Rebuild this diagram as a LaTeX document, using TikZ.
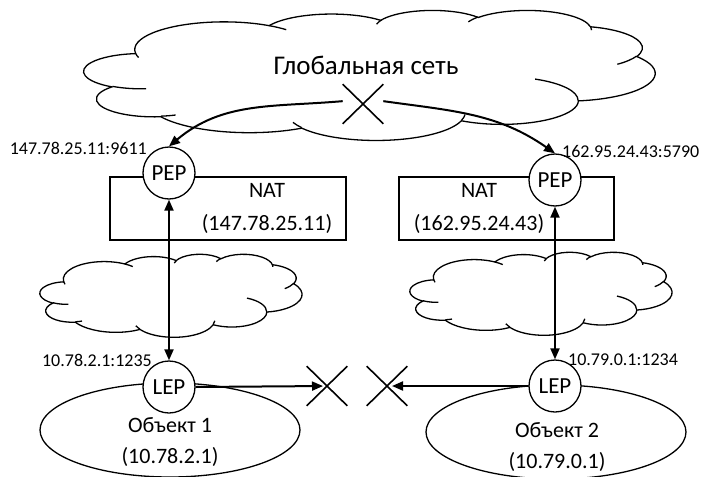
\documentclass[tikz,border=0pt]{standalone}
\usepackage{fontspec}
\setmainfont{Carlito}
\usetikzlibrary{arrows.meta,shapes.geometric,shapes.misc}

\newcommand\carc[4]{arc[start angle={atan2(#1*sin(#3),#2*cos(#3))}, delta angle={mod(atan2(#1*sin(#3+#4),#2*cos(#3+#4))-atan2(#1*sin(#3),#2*cos(#3))+720,360)}, x radius=#1pt, y radius=#2pt]}

\newcommand\drawcloud[4]{%
\begin{scope}[shift={(#1,-#2)},xscale=#3/100,yscale=-#4/100]
\draw[shapeline,fill=white] (9.028,33.264) \carc{15.632}{21.273}{-190.4875}{123.7805} \carc{12.345}{16.822}{-144.1024}{89.9452} \carc{10.104}{13.762}{-145.8079}{99.7230} \carc{11.243}{15.266}{-130.9861}{117.2417} \carc{12.345}{16.836}{-78.7089}{109.0269} \carc{15.683}{21.343}{-46.2673}{130.2690} \carc{13.391}{18.211}{0.6250}{114.0333} \carc{15.630}{21.331}{22.4516}{115.1726} \carc{17.870}{24.405}{66.2426}{75.7110} \carc{10.093}{13.699}{-274.9421}{146.7356} \carc{10.058}{13.762}{-246.8285}{152.5189} -- cycle;
\draw[shapeline] (10.863,60.595) \carc{10.058}{13.762}{86.742}{26.4295}
 (16.037,80.785) \carc{10.093}{13.699}{73.6105}{11.4475}
 (38.144,90.486) \carc{15.630}{21.331}{137.6242}{14.0811}
 (66.729,80.442) \carc{15.630}{21.331}{6.4533}{15.9984}
 (79.002,53.134) \carc{13.391}{18.211}{-70.2924}{70.9174}
 (96.755,35.542) \carc{12.345}{16.836}{30.318}{27.7515}
 (88.713,12.560) \carc{11.243}{15.266}{-13.7443}{14.8589}
 (67.310,9.148) \carc{11.243}{15.266}{-149.1815}{18.1954}
 (51.252,10.926) \carc{10.104}{13.762}{-163.4943}{17.6864}
 (32.407,12.019) \carc{15.632}{21.273}{-66.707}{12.3194}
 (9.553,36.549) \carc{15.632}{21.273}{157.6544}{11.8582};
\end{scope}}

\begin{document}
\begin{tikzpicture}[x=1pt,y=1pt,
  shapeline/.style={line width=1.3pt},
  conn/.style={line width=2pt, -{Triangle[length=11pt,width=9pt]}},
  conntwo/.style={line width=2pt, {Triangle[length=11pt,width=9pt]}-{Triangle[length=11pt,width=9pt]}},
  endpt/.style={circle, draw, shapeline, fill=white, minimum size=52pt, inner sep=0pt, font=\fontsize{23}{27}\selectfont},
  natbox/.style={draw, shapeline, fill=white, rectangle, inner sep=0pt},
  xmark/.style={cross out, draw, line width=1.6pt, minimum width=39pt, minimum height=38pt, inner sep=0pt},
  addr/.style={font=\fontsize{18}{21}\selectfont, inner sep=0pt},
  maintext/.style={font=\fontsize{22}{33}\selectfont, align=center, inner sep=0pt},
  objtext/.style={font=\fontsize{22}{31}\selectfont, align=center, inner sep=0pt},
  objshape/.style={ellipse, draw, shapeline, fill=white, minimum width=260pt, minimum height=94pt, inner sep=0pt}]

\useasboundingbox (0,0) rectangle (705,-477);
\fill[white] (0,0) rectangle (705,-477);

\drawcloud{84}{10}{571}{130}
\drawcloud{40}{254}{262}{83}
\drawcloud{410}{252}{262}{83}

\node[font=\fontsize{27}{30}\selectfont, inner sep=0pt] (global) at (366,-65) {Глобальная сеть};
\node[xmark] (xg) at (363,-104) {};

\node[natbox, minimum width=236pt, minimum height=63pt] (natL) at (228,-208.5) {};
\node[maintext] (natLtxt) at (267,-208.5) {NAT\\(147.78.25.11)};
\node[natbox, minimum width=215pt, minimum height=63pt] (natR) at (506.5,-208.5) {};
\node[maintext] (natRtxt) at (479,-208.5) {NAT\\(162.95.24.43)};

\node[objshape] (obj1) at (170,-430) {};
\node[objtext] (obj1txt) at (170,-442.5) {Объект 1\\(10.78.2.1)};
\node[objshape] (obj2) at (556,-432) {};
\node[objtext] (obj2txt) at (557,-447) {Объект 2\\(10.79.0.1)};

\node[endpt] (pepL) at (169,-173) {PEP};
\node[endpt] (pepR) at (555,-180) {PEP};
\node[endpt] (lepL) at (169,-387) {LEP};
\node[endpt] (lepR) at (555,-386) {LEP};

\node[addr, anchor=east] (aPEPL) at (147,-148) {147.78.25.11:9611};
\node[addr, anchor=west] (aPEPR) at (562,-151) {162.95.24.43:5790};
\node[addr, anchor=east] (aLEPL) at (152,-360) {10.78.2.1:1235};
\node[addr, anchor=west] (aLEPR) at (568,-360) {10.79.0.1:1234};

\node[xmark] (x1) at (327,-386) {};
\node[xmark] (x2) at (387,-386) {};

\draw[conn] (xg.172) to[out=185,in=40] (pepL.north);
\draw[conn] (xg.8) to[out=-8,in=145] (pepR.north);
\draw[conntwo] (pepL.south) -- (lepL.north);
\draw[conntwo] (pepR.south) -- (lepR.north);
\draw[conn, shorten >=4pt] (lepL.east) -- (x1.center);
\draw[conn, shorten >=5pt] (lepR.west) -- (x2.center);
\end{tikzpicture}
\end{document}
